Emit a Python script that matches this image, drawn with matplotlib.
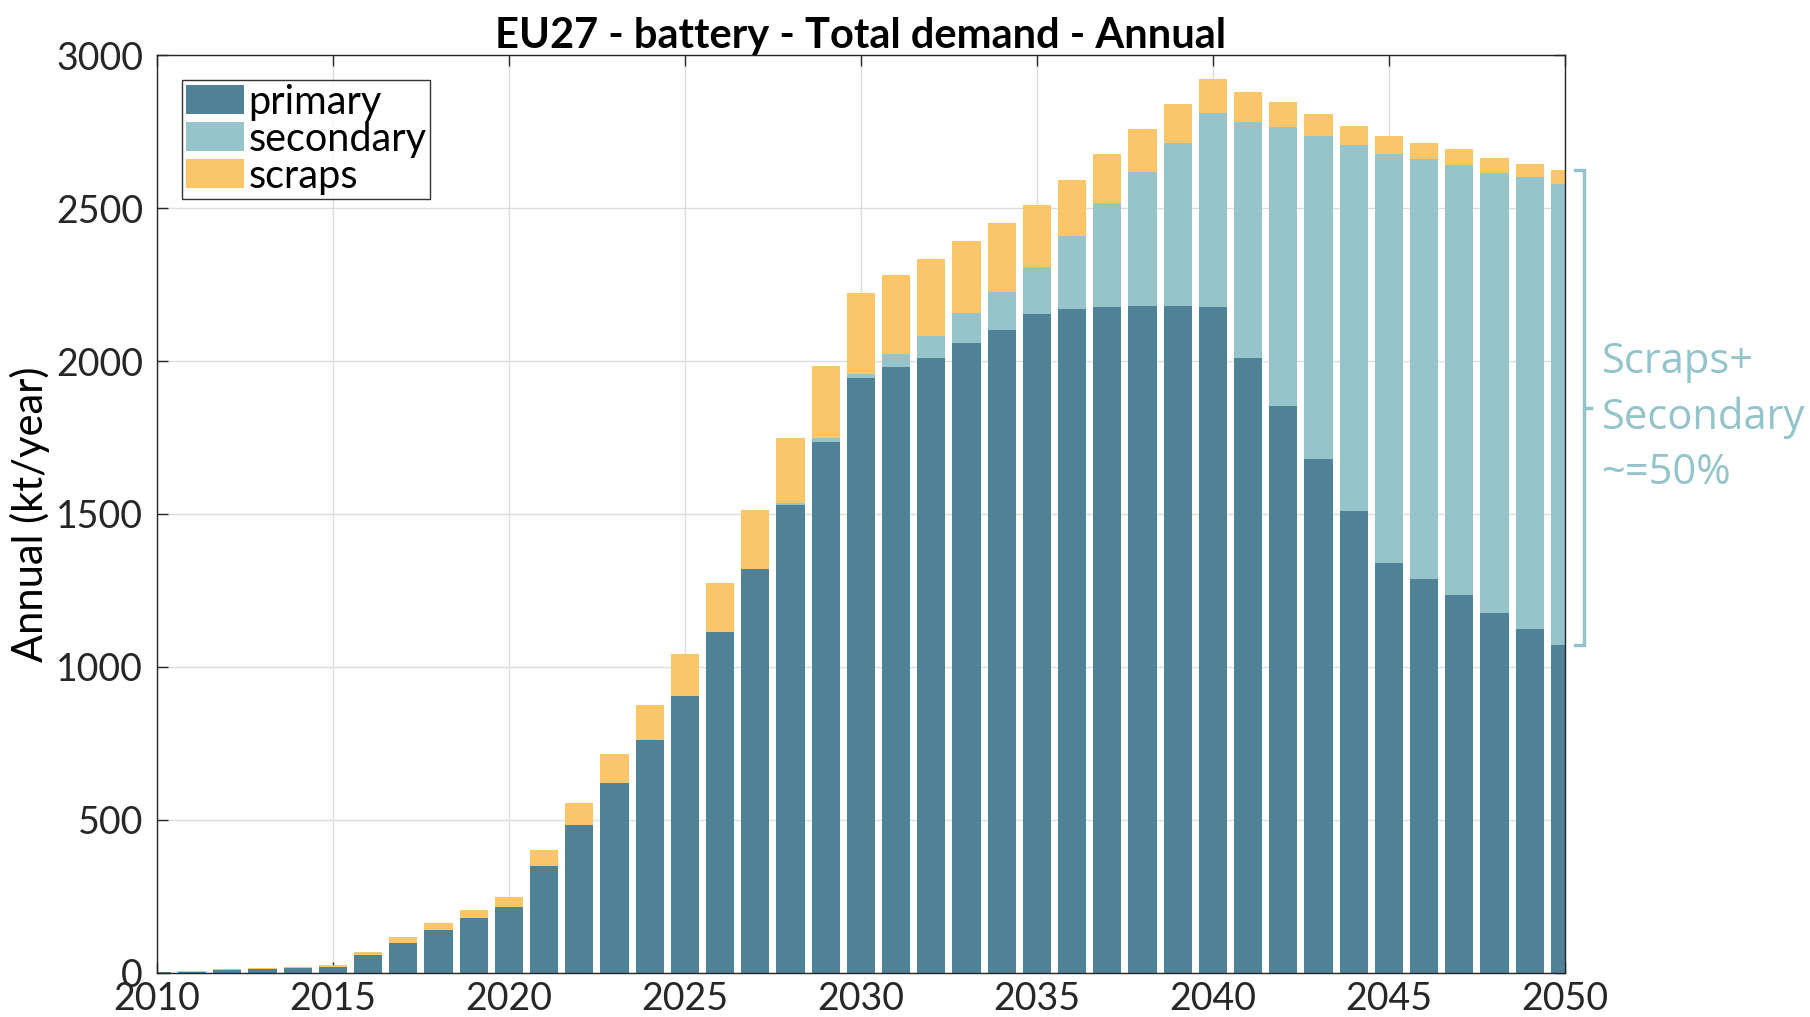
import matplotlib
matplotlib.use("Agg")
import matplotlib.pyplot as plt
import numpy as np

years = list(range(2010, 2051))
primary = [2, 4, 9, 14, 17, 21, 60, 99, 141, 178, 215, 348, 485, 622, 763,
           906, 1113, 1321, 1528, 1736, 1943, 1981, 2011, 2060, 2102, 2155,
           2170, 2177, 2181, 2181, 2177, 2011, 1853, 1679, 1509, 1340, 1287,
           1234, 1177, 1125, 1072]
primary_plus_secondary = [2, 4, 9, 14, 17, 21, 60, 99, 141, 178, 215, 348, 485, 622, 763,
           906, 1113, 1321, 1536, 1747, 1958, 2023, 2083, 2158, 2226, 2308,
           2410, 2515, 2617, 2712, 2810, 2780, 2765, 2734, 2705, 2678, 2660,
           2642, 2616, 2600, 2580]
total = [3, 8, 12, 16, 20, 26, 70, 116, 163, 205, 247, 401, 557, 715, 877,
         1042, 1275, 1513, 1747, 1985, 2223, 2280, 2334, 2393, 2450, 2511,
         2593, 2675, 2758, 2840, 2923, 2878, 2848, 2806, 2768, 2735, 2712,
         2692, 2662, 2644, 2624]
secondary = [b - a for a, b in zip(primary, primary_plus_secondary)]
scraps = [c - b for b, c in zip(primary_plus_secondary, total)]

labels = ["primary", "secondary", "scraps"]
colors = ["#4F8297", "#95C4CB", "#FAC669"]
title = "EU27 - battery - Total demand - Annual"
ylabel = "Annual (kt/year)"
note = "Scraps+\nSecondary\n~=50%"
note_color = "#93C3CB"

plt.rcParams['font.family'] = ['Lato', 'DejaVu Sans']

fig = plt.figure(figsize=(18.10, 10.17), dpi=100)
ax = fig.add_axes([0.0867, 0.0433, 0.7779, 0.9026])

x = np.array(years)
w = 0.8
ax.bar(x, primary, w, color=colors[0], label=labels[0], zorder=3)
ax.bar(x, secondary, w, bottom=primary, color=colors[1], label=labels[1], zorder=3)
ax.bar(x, scraps, w, bottom=primary_plus_secondary, color=colors[2], label=labels[2], zorder=3)

ax.set_xlim(2010, 2050)
ax.set_ylim(0, 3000)
ax.set_xticks(range(2010, 2051, 5))
ax.set_yticks(range(0, 3001, 500))
ax.grid(True, color="#DDDDDD", linewidth=1.0, zorder=0)
ax.set_axisbelow(True)
ax.tick_params(direction="in", length=8, width=1.0, labelsize=27, top=True, right=True,
               colors="#262626")
ax.tick_params(axis='x', pad=6)
ax.tick_params(axis='y', pad=10)
for s in ax.spines.values():
    s.set_color("#262626")
    s.set_linewidth(1.0)
    s.set_zorder(5)

ax.set_title(title, fontsize=30, fontweight="bold", pad=5)
ax.set_ylabel(ylabel, fontsize=30, labelpad=4)

leg = ax.legend(loc="upper left", bbox_to_anchor=(0.018, 0.973), borderaxespad=0,
                fontsize=28.5, frameon=True, fancybox=False, edgecolor="black",
                handlelength=1.45, handleheight=0.75, handletextpad=0.12,
                labelspacing=0.0, borderpad=0.1)
leg.get_frame().set_linewidth(1.0)

# bracket annotation for last year
y_top = total[-1]
y_bot = primary[-1]
y_mid = (y_top + y_bot) / 2
bx = x[-1] + 0.55
ax.plot([bx - 0.25, bx, bx, bx - 0.25], [y_top, y_top, y_bot, y_bot],
        color=note_color, linewidth=2.5, clip_on=False, solid_joinstyle='miter')
ax.plot([bx, bx + 0.2], [y_mid, y_mid], color=note_color, linewidth=2.5, clip_on=False)
ax.text(x[-1] + 1.05, y_mid - 33, note, color=note_color, fontsize=30,
        family=['Open Sans', 'DejaVu Sans'],
        ha="left", va="center", linespacing=1.4, clip_on=False)

fig.savefig("out.png", dpi=100)
